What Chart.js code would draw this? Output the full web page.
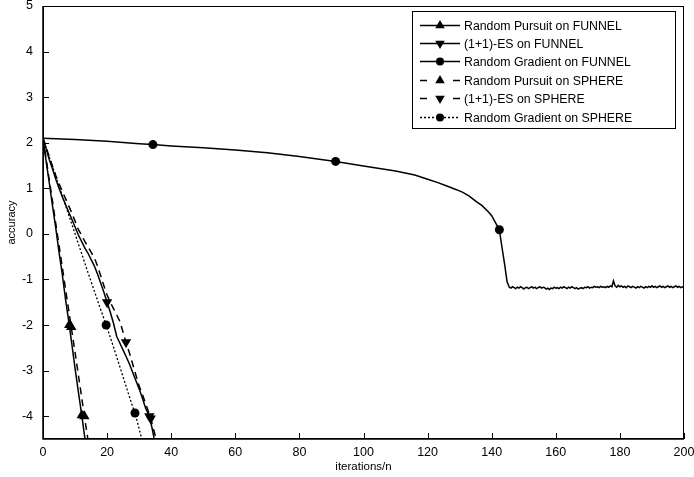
<!DOCTYPE html>
<html>
<head>
<meta charset="utf-8">
<title>accuracy</title>
<script src="https://cdn.jsdelivr.net/npm/chart.js@4.4.0/dist/chart.umd.min.js"></script>
<style>
	body { margin: 0; background: #fff; }
</style>
</head>
<body>
<canvas id="canvasAccuracy" width="694" height="477"></canvas>
<script>
// tick labels
var xTicks = [0, 20, 40, 60, 80, 100, 120, 140, 160, 180, 200];
var yTicks = [5, 4, 3, 2, 1, 0, -1, -2, -3, -4];

// Random Pursuit on FUNNEL
var rpFunnelX = [0, 1, 2, 3, 4, 5, 6, 7, 8.2, 9, 10, 11, 12.1, 13, 14];
var rpFunnelY = [2.1, 1.58, 1.1, 0.6, 0.12, -0.4, -0.88, -1.42, -2.0, -2.42, -2.95, -3.45, -3.98, -4.45, -4.95];
var rpFunnelMarks = [8.2, 12.1];

// (1+1)-ES on FUNNEL
var esFunnelX = [0, 1, 2, 3, 4, 5, 6, 7, 8, 9, 10, 11, 12, 13, 14, 15, 16, 17, 18, 19, 20, 21, 22, 23, 24, 25, 26, 27, 28, 29, 30, 31, 32, 33.2, 34, 35];
var esFunnelY = [2.1, 1.86, 1.62, 1.42, 1.2, 1.0, 0.82, 0.65, 0.48, 0.32, 0.15, -0.02, -0.16, -0.3, -0.42, -0.56, -0.7, -0.88, -1.08, -1.28, -1.5, -1.72, -1.96, -2.25, -2.4, -2.55, -2.7, -2.86, -3.04, -3.22, -3.4, -3.6, -3.82, -4.0, -4.25, -4.6];
var esFunnelMarks = [20, 33.2];

// Random Gradient on FUNNEL: slow decrease, sharp drop near 143, then a noisy floor
var rgFunnelX = [0, 10, 20, 30, 34.3, 40, 50, 60, 70, 80, 91.3, 100, 110, 116, 120, 123, 126, 129, 131, 133, 135, 137, 139, 140, 141, 142.4, 143, 144, 144.8, 145.5,
	146, 146.5, 147, 147.5, 148, 148.5, 149, 149.5, 150, 150.5, 151, 151.5, 152, 152.5, 153, 153.5, 154, 154.5, 155, 155.5,
	156, 156.5, 157, 157.5, 158, 158.5, 159, 159.5, 160, 160.5, 161, 161.5, 162, 162.5, 163, 163.5, 164, 164.5, 165, 165.5,
	166, 166.5, 167, 167.5, 168, 168.5, 169, 169.5, 170, 170.5, 171, 171.5, 172, 172.5, 173, 173.5, 174, 174.5, 175, 175.5,
	176, 176.5, 177, 177.5, 178, 178.5, 179, 179.5, 180, 180.5, 181, 181.5, 182, 182.5, 183, 183.5, 184, 184.5, 185, 185.5,
	186, 186.5, 187, 187.5, 188, 188.5, 189, 189.5, 190, 190.5, 191, 191.5, 192, 192.5, 193, 193.5, 194, 194.5, 195, 195.5,
	196, 196.5, 197, 197.5, 198, 198.5, 199, 199.5, 200];
var rgFunnelY = [2.1, 2.07, 2.03, 1.98, 1.96, 1.93, 1.89, 1.84, 1.78, 1.7, 1.59, 1.49, 1.38, 1.29, 1.2, 1.13, 1.05, 0.97, 0.91, 0.83, 0.72, 0.62, 0.48, 0.4, 0.27, 0.09, -0.2, -0.65, -1.05, -1.17,
	-1.19, -1.16, -1.18, -1.2, -1.17, -1.19, -1.16, -1.18, -1.21, -1.18, -1.17, -1.2, -1.18, -1.16, -1.19, -1.17, -1.2, -1.18, -1.16, -1.19,
	-1.17, -1.18, -1.21, -1.19, -1.22, -1.19, -1.2, -1.17, -1.19, -1.18, -1.2, -1.17, -1.19, -1.16, -1.18, -1.2, -1.17, -1.19, -1.16, -1.18,
	-1.2, -1.18, -1.21, -1.19, -1.18, -1.2, -1.17, -1.18, -1.16, -1.19, -1.17, -1.18, -1.15, -1.17, -1.16, -1.18, -1.15, -1.17, -1.16, -1.18,
	-1.15, -1.17, -1.14, -1.16, -1.03, -1.14, -1.17, -1.13, -1.16, -1.14, -1.17, -1.15, -1.18, -1.14, -1.16, -1.18, -1.15, -1.17, -1.19, -1.16,
	-1.18, -1.15, -1.17, -1.19, -1.16, -1.18, -1.15, -1.17, -1.14, -1.17, -1.15, -1.18, -1.16, -1.14, -1.17, -1.15, -1.18, -1.16, -1.14, -1.17,
	-1.15, -1.18, -1.16, -1.14, -1.17, -1.15, -1.18, -1.16, -1.17];
var rgFunnelMarks = [34.3, 91.3, 142.4];

// Random Pursuit on SPHERE
var rpSphereX = [0, 1, 2, 3, 4, 5, 6, 7, 8, 8.8, 10, 11, 12, 12.9, 14, 15];
var rpSphereY = [2.1, 1.64, 1.16, 0.7, 0.22, -0.25, -0.72, -1.2, -1.66, -2.04, -2.6, -3.08, -3.55, -4.0, -4.5, -4.97];
var rpSphereMarks = [8.8, 12.9];

// (1+1)-ES on SPHERE
var esSphereX = [0, 1, 2, 3, 4, 5, 6, 7, 8, 9, 10, 11, 12, 13, 14, 15, 16, 17, 18, 19, 20, 21, 22, 23, 24, 25.9, 27, 28, 29, 30, 31, 32, 33, 33.6, 35, 36];
var esSphereY = [2.1, 1.9, 1.68, 1.48, 1.28, 1.1, 0.94, 0.78, 0.62, 0.46, 0.28, 0.1, -0.02, -0.16, -0.28, -0.4, -0.52, -0.7, -0.92, -1.14, -1.34, -1.5, -1.64, -1.78, -1.92, -2.38, -2.62, -2.86, -3.1, -3.34, -3.52, -3.72, -3.92, -4.05, -4.42, -4.75];
var esSphereMarks = [25.9, 33.6];

// Random Gradient on SPHERE
var rgSphereX = [0, 2, 4, 6, 8, 10, 12, 14, 16, 18, 19.7, 22, 24, 26, 28, 28.7, 30, 31];
var rgSphereY = [2.1, 1.68, 1.26, 0.84, 0.42, 0.0, -0.42, -0.84, -1.25, -1.66, -2.0, -2.48, -2.92, -3.36, -3.8, -3.93, -4.28, -4.55];
var rgSphereMarks = [19.7, 28.7];

var FONT = '"Liberation Sans", Arial, sans-serif';

function toPoints(xs, ys){
	var pts = [];
	for (var i = 0; i < xs.length; i++) {
		pts.push({x: xs[i], y: ys[i]});
	}
	return pts;
}

function serie(label, xs, ys, marks, style, radius, rotation, dash, width){
	return {
		label: label,
		data: toPoints(xs, ys),
		borderColor: '#000',
		backgroundColor: '#000',
		borderWidth: width,
		borderDash: dash,
		pointStyle: style,
		rotation: rotation,
		pointRadius: function(ctx){ return marks.indexOf(ctx.raw.x) >= 0 ? radius : 0; },
		pointBorderWidth: 0,
		pointHoverRadius: 0,
		tension: 0,
		fill: false
	};
}

var datasets = [
	serie('Random Pursuit on FUNNEL', rpFunnelX, rpFunnelY, rpFunnelMarks, 'triangle', 6, 0, [], 1.5),
	serie('(1+1)-ES on FUNNEL', esFunnelX, esFunnelY, esFunnelMarks, 'triangle', 6, 180, [], 1.5),
	serie('Random Gradient on FUNNEL', rgFunnelX, rgFunnelY, rgFunnelMarks, 'circle', 4.5, 0, [], 1.5),
	serie('Random Pursuit on SPHERE', rpSphereX, rpSphereY, rpSphereMarks, 'triangle', 6, 0, [7, 5], 1.5),
	serie('(1+1)-ES on SPHERE', esSphereX, esSphereY, esSphereMarks, 'triangle', 6, 180, [7, 5], 1.5),
	serie('Random Gradient on SPHERE', rgSphereX, rgSphereY, rgSphereMarks, 'circle', 4.5, 0, [2, 2], 1.3)
];

// frame, inner tick marks and the boxed legend
var framePlugin = {
	id: 'frame',
	afterDatasetsDraw: function(chart){
		var ctx = chart.ctx;
		var a = chart.chartArea;
		var xs = chart.scales.x, ys = chart.scales.y;
		ctx.save();
		ctx.strokeStyle = '#000';
		ctx.lineWidth = 1;
		ctx.strokeRect(a.left + 0.5, a.top + 0.5, a.right - a.left - 1, a.bottom - a.top - 1);
		ctx.lineWidth = 1.5;
		ctx.beginPath();
		ctx.moveTo(a.left, a.top); ctx.lineTo(a.left, a.bottom); ctx.lineTo(a.right, a.bottom);
		ctx.stroke();
		ctx.lineWidth = 1;
		ctx.beginPath();
		xTicks.forEach(function(v){
			var px = Math.round(xs.getPixelForValue(v)) + 0.5;
			ctx.moveTo(px, a.bottom); ctx.lineTo(px, a.bottom - 6);
		});
		yTicks.forEach(function(v){
			var py = Math.round(ys.getPixelForValue(v)) + 0.5;
			ctx.moveTo(a.left, py); ctx.lineTo(a.left + 6, py);
		});
		ctx.stroke();

		// legend
		var bw = 263, bh = 117;
		var bx = a.right - 9 - bw, by = a.top + 5;
		ctx.fillStyle = '#fff';
		ctx.fillRect(bx, by, bw, bh);
		ctx.strokeRect(bx + 0.5, by + 0.5, bw, bh);
		ctx.font = '12.3px ' + FONT;
		ctx.textBaseline = 'middle';
		chart.data.datasets.forEach(function(ds, i){
			var ry = Math.round(by + 13.5 + i * 18.4) + 0.5;
			var lx = bx + 8, lx2 = bx + 48, mid = (lx + lx2) / 2;
			ctx.strokeStyle = '#000';
			ctx.fillStyle = '#000';
			ctx.lineWidth = ds.borderWidth;
			ctx.beginPath();
			if (ds.borderDash.length && ds.borderDash[0] > 3) {
				// dashed sample: a short dash each side of the marker
				ctx.moveTo(lx, ry); ctx.lineTo(lx + 7, ry);
				ctx.moveTo(lx2 - 7, ry); ctx.lineTo(lx2, ry);
			} else {
				ctx.setLineDash(ds.borderDash);
				ctx.moveTo(lx, ry); ctx.lineTo(lx2, ry);
			}
			ctx.stroke();
			ctx.setLineDash([]);
			Chart.helpers.drawPoint(ctx, {
				pointStyle: ds.pointStyle,
				rotation: ds.rotation,
				radius: ds.pointStyle === 'circle' ? 4 : 5.5,
				borderWidth: 0
			}, mid, ry);
			ctx.fillText(ds.label, lx2 + 4, ry + 1);
		});
		ctx.restore();
	}
};

var ctx = document.getElementById('canvasAccuracy').getContext('2d');
window.myLine = new Chart(ctx, {
	type: 'line',
	data: { datasets: datasets },
	plugins: [framePlugin],
	options: {
		responsive: false,
		animation: false,
		events: [],
		layout: { padding: { left: 0, right: 10, top: 6, bottom: 0 } },
		plugins: {
			legend: { display: false },
			tooltip: { enabled: false }
		},
		scales: {
			x: {
				type: 'linear',
				min: 0,
				max: 200,
				afterFit: function(scale){
					scale.height = 38;
					scale.paddingLeft = 0;
					scale.paddingRight = 0;
				},
				afterBuildTicks: function(scale){ scale.ticks = xTicks.map(function(v){ return {value: v}; }); },
				grid: { display: false, drawTicks: false },
				border: { display: false },
				ticks: {
					color: '#000',
					padding: 6,
					maxRotation: 0,
					font: { family: FONT, size: 12.5 }
				},
				title: {
					display: true,
					text: 'iterations/n',
					color: '#000',
					padding: { top: 0, bottom: 3 },
					font: { family: FONT, size: 11.5 }
				}
			},
			y: {
				type: 'linear',
				min: -4.5,
				max: 5,
				afterFit: function(scale){
					scale.width = 43;
					scale.paddingTop = 0;
					scale.paddingBottom = 0;
				},
				afterBuildTicks: function(scale){ scale.ticks = yTicks.map(function(v){ return {value: v}; }); },
				grid: { display: false, drawTicks: false },
				border: { display: false },
				ticks: {
					color: '#000',
					padding: 10,
					font: { family: FONT, size: 12.5 }
				},
				title: {
					display: true,
					text: 'accuracy',
					color: '#000',
					padding: { top: 5, bottom: 0 },
					font: { family: FONT, size: 11 }
				}
			}
		}
	}
});
</script>
</body>
</html>
